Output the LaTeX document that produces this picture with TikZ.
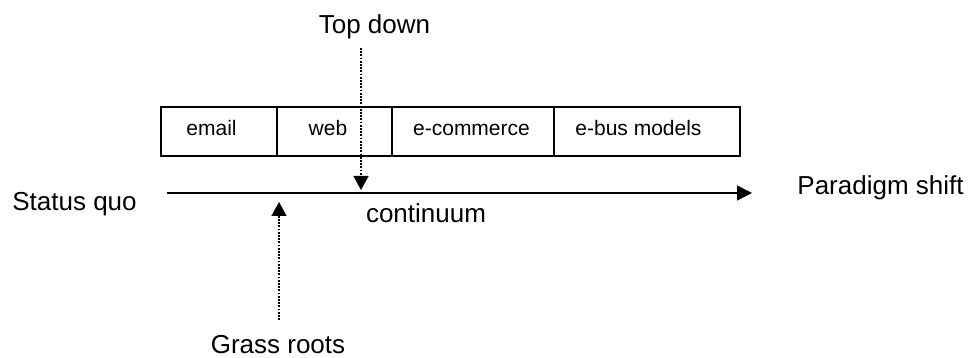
\documentclass[tikz,border=0pt]{standalone}
\usepackage{fontspec}
\setmainfont{Liberation Sans}
\usetikzlibrary{arrows.meta}
\begin{document}
\begin{tikzpicture}[x=1pt,y=-1pt,
  lbl/.style={font=\fontsize{26}{30}\selectfont, inner sep=0pt, anchor=base},
  cell/.style={draw, line width=1.4pt, minimum height=49pt, inner sep=0pt},
  celltxt/.style={font=\fontsize{21}{25}\selectfont, inner sep=0pt, anchor=base},
  dotarrow/.style={line width=1.6pt, dash pattern=on 1.8pt off 1.4pt, -{Triangle[width=15pt,length=14pt]}},
  mainarrow/.style={line width=1.5pt, -{Triangle[width=15pt,length=15pt]}}]
\useasboundingbox (0,0) rectangle (972,358);

% cells
\node[cell, minimum width=116pt] (c1) at (219,131.5) {};
\node[cell, minimum width=115pt] (c2) at (334.5,131.5) {};
\node[cell, minimum width=162pt] (c3) at (473,131.5) {};
\node[cell, minimum width=186pt] (c4) at (647,131.5) {};
\node[celltxt] (t1) at (211.5,136) {email};
\node[celltxt] (t2) at (328,136) {web};
\node[celltxt] (t3) at (471.5,136) {e-commerce};
\node[celltxt] (t4) at (638.5,136) {e-bus models};

% labels
\node[lbl] (td) at (374.5,34) {Top down};
\node[lbl] (sq) at (74.5,211) {Status quo};
\node[lbl] (ps) at (880.5,195) {Paradigm shift};
\node[lbl] (ct) at (426,223) {continuum};
\node[lbl] (gr) at (278,353) {Grass roots};

% axis
\coordinate (a0) at (167,193);
\coordinate (a1) at (752,193);
\draw[mainarrow] (a0) -- (a1);

% dotted arrows
\coordinate (tds) at (361,48);
\coordinate (tde) at (361,190);
\draw[dotarrow] (tds) -- (tde);
\coordinate (grs) at (279,320);
\coordinate (gre) at (279,202);
\draw[dotarrow] (grs) -- (gre);
\end{tikzpicture}
\end{document}
